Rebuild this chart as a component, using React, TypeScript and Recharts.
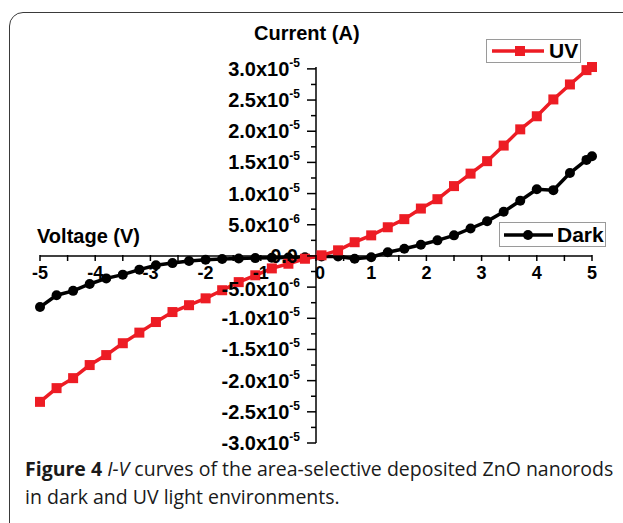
import React from "react";
import { LineChart, Line, XAxis, YAxis, ReferenceLine } from "recharts";

// Data (current in A)
const voltage = [
  -5.0, -4.7, -4.4, -4.1, -3.8, -3.5, -3.2, -2.9, -2.6, -2.3, -2.0, -1.7,
  -1.4, -1.1, -0.8, -0.5, -0.2, 0.1, 0.4, 0.7, 1.0, 1.3, 1.6, 1.9, 2.2, 2.5,
  2.8, 3.1, 3.4, 3.7, 4.0, 4.3, 4.6, 4.9, 5.0,
];

const uvCurrent = [
  -23.4e-6, -21.2e-6, -19.6e-6, -17.5e-6, -15.9e-6, -14.0e-6, -12.3e-6,
  -10.6e-6, -9.0e-6, -7.9e-6, -6.8e-6, -5.5e-6, -4.2e-6, -3.1e-6, -2.0e-6,
  -1.25e-6, -0.45e-6, 0.1e-6, 0.9e-6, 2.2e-6, 3.3e-6, 4.6e-6, 5.9e-6,
  7.6e-6, 9.1e-6, 11.2e-6, 13.2e-6, 15.2e-6, 17.7e-6, 20.3e-6, 22.4e-6,
  25.1e-6, 27.5e-6, 29.8e-6, 30.3e-6,
];

const darkCurrent = [
  -8.2e-6, -6.3e-6, -5.6e-6, -4.5e-6, -3.6e-6, -3.0e-6, -2.2e-6, -1.5e-6,
  -1.15e-6, -0.8e-6, -0.6e-6, -0.5e-6, -0.4e-6, -0.35e-6, -0.3e-6, -0.25e-6,
  -0.2e-6, -0.1e-6, -0.1e-6, -0.45e-6, -0.2e-6, 0.6e-6, 1.15e-6, 1.8e-6,
  2.5e-6, 3.3e-6, 4.4e-6, 5.55e-6, 7.1e-6, 8.85e-6, 10.7e-6, 10.55e-6,
  13.3e-6, 15.4e-6, 16.0e-6,
];

const xTicks = [
  -5, -4.5, -4, -3.5, -3, -2.5, -2, -1.5, -1, -0.5, 0, 0.5, 1, 1.5, 2, 2.5,
  3, 3.5, 4, 4.5, 5,
];

const yMajorTicks = [
  -3.0e-5, -2.5e-5, -2.0e-5, -1.5e-5, -1.0e-5, -5.0e-6, 0, 5.0e-6, 1.0e-5,
  1.5e-5, 2.0e-5, 2.5e-5, 3.0e-5,
];
const yMinorTicks = [
  -2.75e-5, -2.25e-5, -1.75e-5, -1.25e-5, -7.5e-6, -2.5e-6, 2.5e-6, 7.5e-6,
  1.25e-5, 1.75e-5, 2.25e-5, 2.75e-5,
];

const data = voltage.map((v, i) => ({
  v,
  uv: uvCurrent[i],
  dark: darkCurrent[i],
}));

const W = 623;
const H = 523;
const X_AXIS_H = 30;
const Y_AXIS_W = 1;
const M = { top: 67, right: 31, bottom: 80 - X_AXIS_H, left: 40 - Y_AXIS_W };
const PLOT_LEFT = 40;
const PLOT_BOTTOM = H - 80;
const X0 = PLOT_LEFT + (W - PLOT_LEFT - M.right) / 2;
const Y0 = M.top + (PLOT_BOTTOM - M.top) / 2;

const RED = "#ED1C24";
const BOLD = "'Liberation Sans', Arial, sans-serif";

function splitSci(v: number) {
  if (v === 0) return { m: "0.0", e: "" };
  const e = Math.floor(Math.log10(Math.abs(v)) + 1e-9);
  const m = v / Math.pow(10, e);
  return { m: `${m.toFixed(1)}x10`, e: `${e}` };
}

const renderXTick = (props: any) => {
  const { x, payload, index } = props;
  const v = payload.value;
  const major = Number.isInteger(v);
  return (
    <g key={`xt${index}`}>
      <line x1={x} x2={x} y1={Y0} y2={Y0 + 6} stroke="#000" strokeWidth={1.5} />
      {major && (
        <text
          x={v === 0 ? x + 4 : x}
          y={Y0 + 24}
          textAnchor="middle"
          fontSize={18}
          fontWeight="bold"
          fontFamily={BOLD}
          fill="#000"
        >
          {v}
        </text>
      )}
    </g>
  );
};

const renderYTick = (props: any) => {
  const { y, payload, index } = props;
  const v = payload.value;
  const major = yMajorTicks.includes(v);
  const { m, e } = splitSci(v);
  return (
    <g key={`yt${index}`}>
      <line
        x1={X0}
        x2={X0 - (major ? 9 : 5)}
        y1={y}
        y2={y}
        stroke="#000"
        strokeWidth={1.5}
      />
      {major && (
        <text
          x={v === 0 ? X0 - 18 : X0 - 16}
          y={v === -5e-6 ? y + 9 : y + 7}
          textAnchor="end"
          fontSize={20}
          fontWeight="bold"
          fontFamily={BOLD}
          fill="#000"
        >
          <tspan>{m}</tspan>
          {e && (
            <tspan dy={-9} fontSize={12}>
              {e}
            </tspan>
          )}
        </text>
      )}
    </g>
  );
};

const SquareDot = (props: any) => {
  const { cx, cy, index } = props;
  return <rect key={`s${index}`} x={cx - 5} y={cy - 5} width={10} height={10} fill={RED} />;
};

const CircleDot = (props: any) => {
  const { cx, cy, index } = props;
  return <circle key={`c${index}`} cx={cx} cy={cy} r={5} fill="#000" />;
};

const legendBox: React.CSSProperties = {
  position: "absolute",
  background: "#fff",
  border: "1.5px solid #9a9a9a",
  boxSizing: "border-box",
  display: "flex",
  alignItems: "center",
  fontFamily: BOLD,
  fontWeight: "bold",
  fontSize: 21,
  color: "#000",
};

export default function App() {
  return (
    <div
      style={{
        position: "absolute",
        left: 0,
        top: 0,
        width: W,
        height: H,
        overflow: "hidden",
        background: "#fff",
      }}
    >
      {/* frame */}
      <div
        style={{
          position: "absolute",
          left: 9,
          top: 12,
          width: 800,
          height: 800,
          border: "1.5px solid #3a3a3a",
          borderTopLeftRadius: 14,
        }}
      />

      <div style={{ position: "absolute", left: 0, top: 0 }}>
        <LineChart width={W} height={H} data={data} margin={M}>
          <XAxis
            dataKey="v"
            type="number"
            domain={[-5, 5]}
            ticks={xTicks}
            interval={0}
            height={X_AXIS_H}
            axisLine={false}
            tickLine={false}
            tick={renderXTick}
          />
          <YAxis
            type="number"
            domain={[-3e-5, 3e-5]}
            ticks={[...yMajorTicks, ...yMinorTicks]}
            interval={0}
            width={Y_AXIS_W}
            axisLine={false}
            tickLine={false}
            tick={renderYTick}
          />
          <ReferenceLine y={0} stroke="#000" strokeWidth={1.5} />
          <ReferenceLine x={0} stroke="#000" strokeWidth={1.5} />
          <Line
            dataKey="dark"
            type="linear"
            stroke="#000"
            strokeWidth={3.5}
            dot={CircleDot}
            isAnimationActive={false}
          />
          <Line
            dataKey="uv"
            type="linear"
            stroke={RED}
            strokeWidth={3.5}
            dot={SquareDot}
            isAnimationActive={false}
          />
        </LineChart>
      </div>

      {/* axis titles */}
      <div
        style={{
          position: "absolute",
          left: 254,
          top: 22,
          fontFamily: BOLD,
          fontWeight: "bold",
          fontSize: 20,
          color: "#000",
        }}
      >
        Current (A)
      </div>
      <div
        style={{
          position: "absolute",
          left: 37,
          top: 225,
          fontFamily: BOLD,
          fontWeight: "bold",
          fontSize: 20,
          color: "#000",
        }}
      >
        Voltage (V)
      </div>

      {/* legends */}
      <div style={{ ...legendBox, left: 486, top: 39, width: 95, height: 24 }}>
        <svg width={60} height={20} style={{ marginLeft: 4 }}>
          <line x1={1} x2={53} y1={10} y2={10} stroke={RED} strokeWidth={3.5} />
          <rect x={24} y={5} width={10} height={10} fill={RED} />
        </svg>
        <span style={{ marginLeft: -2 }}>UV</span>
      </div>
      <div style={{ ...legendBox, left: 499, top: 222, width: 107, height: 25 }}>
        <svg width={54} height={20} style={{ marginLeft: 3 }}>
          <line x1={1} x2={50} y1={10} y2={10} stroke="#000" strokeWidth={3.5} />
          <circle cx={25} cy={10} r={5} fill="#000" />
        </svg>
        <span>Dark</span>
      </div>

      {/* caption */}
      <div
        style={{
          position: "absolute",
          left: 25,
          top: 455,
          width: 610,
          fontFamily: "'Open Sans', sans-serif",
          fontSize: 19.5,
          lineHeight: "28px",
          color: "#1a1a1a",
          whiteSpace: "nowrap",
        }}
      >
        <b>Figure 4</b> <i>I-V</i> curves of the area-selective deposited ZnO
        nanorods
        <br />
        in dark and UV light environments.
      </div>
    </div>
  );
}
